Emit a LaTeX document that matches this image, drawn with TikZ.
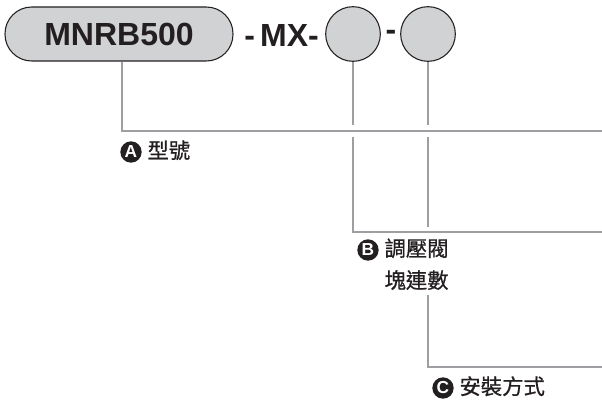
\documentclass[tikz,border=0pt]{standalone}
\usepackage{fontspec}
\setmainfont{Liberation Sans}
\newfontfamily\cjk[FakeBold=0.8]{Noto Sans CJK TC}
\usepackage{tikz}
\usetikzlibrary{positioning}
\usetikzlibrary{calc}
\usepackage{xcolor}
\definecolor{leadgray}{HTML}{9D9FA2}
\definecolor{slotgray}{HTML}{D1D2D4}
\definecolor{ink}{HTML}{231F20}

\begin{document}
\begin{tikzpicture}[
x=0.75pt, y=-0.75pt,
pill/.style={draw=ink, line width=0.8pt, fill=slotgray, rounded corners=20pt, minimum width=171pt, minimum height=40.5pt, font=\fontsize{24}{24}\bfseries, text=ink},
slot/.style={circle, draw=ink, line width=0.8pt, fill=slotgray, minimum size=41pt, inner sep=0},
code/.style={font=\fontsize{24}{24}\bfseries, text=ink, inner sep=0},
badge/.style={circle, fill=ink, text=white, minimum size=16pt, inner sep=0, font=\fontsize{13}{13}\bfseries},
tag/.style={font=\cjk\fontsize{16}{16}\selectfont, text=ink, inner sep=2pt, text height=12.5pt, text depth=3pt},
lead/.style={draw=leadgray, line width=2pt}
]
\useasboundingbox (0,0) rectangle (602,403);

\node[pill] (pill) at (119,34) {MNRB500};
\node[code, anchor=west] (mx) at (244,35) {-\,MX-};
\node[slot] (s1) at (353,34) {};
\node[code] (dash) at (391,35) {-};
\node[slot] (s2) at (428,34) {};

\coordinate (ka) at (122,131);
\coordinate (ea) at (602,131);
\coordinate (kb) at (353,232);
\coordinate (eb) at (602,232);
\coordinate (kc) at (428,367);
\coordinate (ec) at (602,367);

\node[badge] (ba) at (131,152) {A};
\node[tag, right=2pt of ba] (ta) {型號};
\node[badge] (bb) at (368,250) {B};
\node[tag, right=2pt of bb] (tb1) {調壓閥};
\node[tag, below=4pt of tb1] (tb2) {塊連數};
\node[badge] (bc) at (443,388) {C};
\node[tag, right=2pt of bc] (tc) {安裝方式};

\draw[lead] (pill.south -| ka) -- (ka) -- (ea);
\draw[lead] (s1.south) -- ($(ka -| s1)+(0,-6)$);
\draw[lead] ($(ka -| s1)+(0,6)$) -- (kb) -- (eb);
\draw[lead] (s2.south) -- ($(ka -| s2)+(0,-6)$);
\draw[lead] ($(ka -| s2)+(0,6)$) -- ($(kb -| s2)+(0,-5)$);
\draw[lead] (tb2.south -| s2) -- (kc) -- (ec);
\end{tikzpicture}
\end{document}
